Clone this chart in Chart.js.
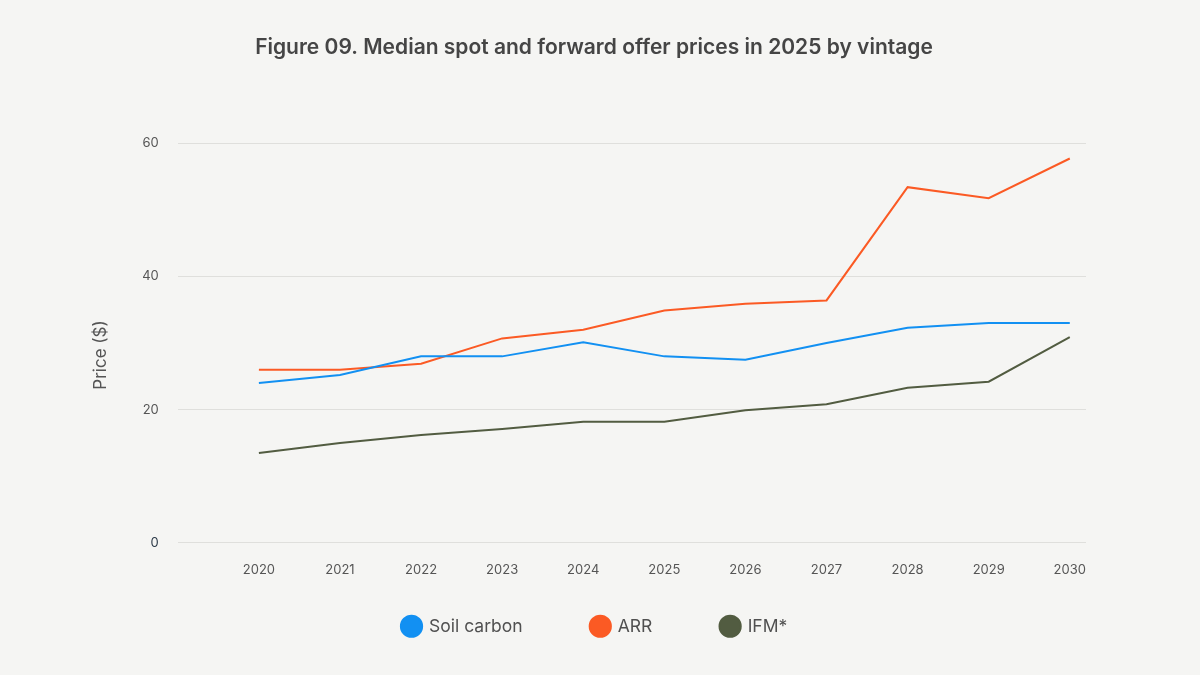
<!DOCTYPE html>
<html>
<head>
<meta charset="utf-8">
<script src="https://cdn.jsdelivr.net/npm/chart.js@4.4.1/dist/chart.umd.min.js"></script>
<style>
  html, body { margin: 0; padding: 0; background: #f5f5f3; }
  #wrap { width: 1200px; height: 675px; position: relative; }
</style>
</head>
<body>
<div id="wrap"><canvas id="chart"></canvas></div>
<script>
// vintages and median offer prices ($)
const years = [2020, 2021, 2022, 2023, 2024, 2025, 2026, 2027, 2028, 2029, 2030];
const soilCarbon = [24.0, 25.2, 28.0, 28.0, 30.1, 28.0, 27.5, 30.0, 32.3, 33.0, 33.0];
const arr = [26.0, 26.0, 26.9, 30.7, 32.0, 34.9, 35.9, 36.4, 53.4, 51.75, 57.7];
const ifm = [13.5, 15.0, 16.2, 17.1, 18.2, 18.2, 19.9, 20.8, 23.3, 24.2, 30.9];
const yTicks = [0, 20, 40, 60];

const textColor = '#555555';
const font = 'Inter, "Noto Sans", sans-serif';

const toPoints = (vals) => vals.map((v, i) => ({ x: years[i], y: v }));

const series = (label, vals, color) => ({
    label: label,
    data: toPoints(vals),
    borderColor: color,
    backgroundColor: color,
    borderWidth: 2,
    pointRadius: 0,
    pointStyle: 'circle',
    tension: 0
});

// the legend needs big label padding for the wide item gaps;
// trim its box and nudge it (and the title) into place
const nudge = {
    id: 'nudge',
    beforeLayout(chart) {
        const lg = chart.legend;
        if (lg && !lg._trimmed) {
            const fit = lg.fit.bind(lg);
            lg.fit = () => { fit(); lg.height -= 23; };
            lg._trimmed = true;
        }
    },
    afterLayout(chart) {
        const lg = chart.legend;
        if (lg) {
            lg.top -= 48;
            lg.height += 48; // keep bottom so the clip area still holds the labels
            lg.left += 12;
            lg.right += 12;
        }
        const tb = chart.titleBlock;
        if (tb) {
            tb.left += 11;
            tb.right += 11;
        }
    }
};

const ctx = document.getElementById('chart').getContext('2d');

new Chart(ctx, {
    type: 'line',
    data: {
        datasets: [
            series('Soil carbon', soilCarbon, '#1290f2'),
            series('ARR', arr, '#fb5a24'),
            series('IFM*', ifm, '#525c41')
        ]
    },
    options: {
        responsive: true,
        maintainAspectRatio: false,
        animation: false,
        layout: { padding: { left: 80, right: 114, top: 0, bottom: 5 } },
        plugins: {
            title: {
                display: true,
                text: 'Figure 09. Median spot and forward offer prices in 2025 by vintage',
                color: '#454545',
                font: { family: font, size: 21, weight: '600' },
                padding: { top: 35, bottom: 83 }
            },
            legend: {
                position: 'bottom',
                labels: {
                    usePointStyle: true,
                    boxWidth: 17.5,
                    boxHeight: 15,
                    padding: 69,
                    color: '#505050',
                    font: { family: font, size: 17.5 }
                }
            },
            tooltip: { enabled: false }
        },
        scales: {
            x: {
                type: 'linear',
                min: 2019,
                max: 2030.2,
                afterBuildTicks: (scale) => {
                    scale.ticks = years.map(y => ({ value: y }));
                },
                grid: { display: false, drawTicks: false },
                border: { display: false },
                ticks: {
                    padding: 19,
                    autoSkip: false,
                    maxRotation: 0,
                    color: textColor,
                    font: { family: font, size: 13 },
                    callback: (v) => String(v)
                }
            },
            y: {
                min: 0,
                max: 60,
                afterBuildTicks: (scale) => {
                    scale.ticks = yTicks.map(v => ({ value: v }));
                },
                grid: { color: '#dfdfdc', lineWidth: 1, drawTicks: false },
                border: { display: false },
                title: {
                    display: true,
                    text: 'Price ($)     ', // trailing spaces sit the title a little low, as in the figure
                    color: textColor,
                    font: { family: font, size: 17 },
                    padding: { top: 11, bottom: 11.8 }
                },
                ticks: {
                    padding: 19,
                    color: (c) => (c.tick && c.tick.value === 0 ? '#2c3a48' : textColor),
                    font: { family: font, size: 13 }
                }
            }
        }
    },
    plugins: [nudge]
});
</script>
</body>
</html>
